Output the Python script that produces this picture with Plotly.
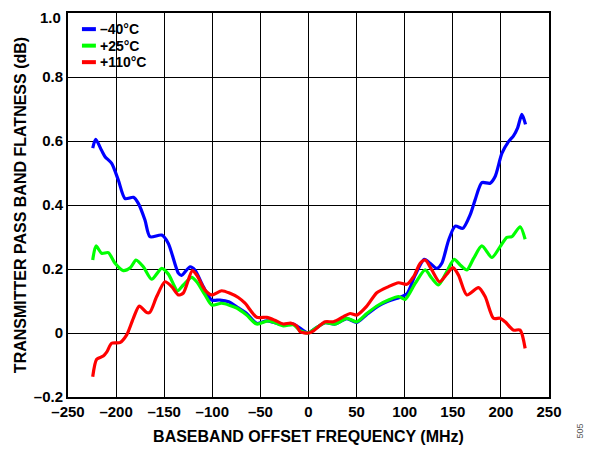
import plotly.graph_objects as go

# -40°C
x_m40 = [-224.3, -221.2, -215, -211.5, -204.6, -197.7, -190.7, -182, -176.9, -170,
         -164.8, -152.6, -145.7, -135.3, -131.9, -123.2, -118, -109.4, -100.6, -92,
         -83, -74.6, -64.3, -53.8, -43.4, -35, -26.2, -15.8, -8.8, 0,
         5, 17.3, 27.7, 39.8, 50.2, 60.6, 72.8, 83.2, 95.3, 102.2,
         110.9, 120.3, 126.5, 133.4, 138.6, 145.6, 152.5, 160.4, 168, 173.2,
         180.2, 188.8, 194, 201, 207.9, 213.1, 217.3, 221.8, 225.6]
y_m40 = [0.578, 0.605, 0.57, 0.551, 0.53, 0.478, 0.42, 0.424, 0.405, 0.353,
         0.301, 0.306, 0.28, 0.187, 0.18, 0.207, 0.197, 0.145, 0.103, 0.103,
         0.098, 0.082, 0.061, 0.03, 0.038, 0.032, 0.025, 0.028, 0.015, 0.0,
         0.01, 0.032, 0.028, 0.045, 0.033, 0.058, 0.085, 0.1, 0.112, 0.122,
         0.181, 0.23, 0.218, 0.202, 0.218, 0.29, 0.334, 0.327, 0.369, 0.416,
         0.47, 0.468, 0.489, 0.561, 0.598, 0.616, 0.64, 0.683, 0.652]

# +25°C
x_p25 = [-224.3, -220.9, -215, -208.1, -201.1, -192.5, -185, -179.3, -171.7, -163,
         -152.6, -145.7, -136, -130.1, -121.4, -116.2, -107.6, -100.6, -90.2, -74.6,
         -64.3, -53.8, -42, -35, -26, -15.8, -8.7, 0, 5, 17.3,
         27.7, 39.8, 50.2, 60.6, 72.8, 83.2, 93.6, 100.5, 110.9, 121.3,
         128.2, 135.1, 143.8, 151.4, 157.7, 164.6, 171.6, 180.2, 190.6, 199.2,
         206.2, 211.4, 220, 225.2]
y_p25 = [0.228, 0.272, 0.249, 0.251, 0.218, 0.195, 0.205, 0.228, 0.207, 0.168,
         0.202, 0.184, 0.132, 0.15, 0.174, 0.16, 0.119, 0.0875, 0.093, 0.078,
         0.056, 0.028, 0.038, 0.032, 0.022, 0.026, 0.007, 0.0, 0.01, 0.032,
         0.028, 0.046, 0.035, 0.061, 0.0875, 0.103, 0.114, 0.105, 0.155, 0.197,
         0.171, 0.15, 0.192, 0.23, 0.2125, 0.197, 0.233, 0.272, 0.236, 0.27,
         0.299, 0.301, 0.332, 0.293]

# +110°C
x_p110 = [-224.3, -220.2, -213.3, -209.8, -204.6, -196, -189, -182.1, -175.9, -168.2,
          -164.8, -157.8, -149.2, -142.2, -135.3, -130.1, -120.8, -116.2, -107.6, -100.6,
          -90.2, -81.6, -73, -66, -53.8, -43.4, -35, -26.2, -18.6, -12.3,
          -8.7, 0, 5.2, 17.3, 26, 36.4, 43.3, 50.2, 60.6, 71,
          83.2, 93.6, 102.2, 109.2, 116.1, 121.3, 128.2, 136.2, 143.8, 150.1,
          155.9, 164.6, 176.7, 183.6, 192.3, 199.2, 204.4, 213.1, 220, 225.2]
y_p110 = [-0.137, -0.082, -0.072, -0.06, -0.032, -0.03, -0.006, 0.046, 0.084, 0.064,
          0.065, 0.114, 0.16, 0.145, 0.119, 0.125, 0.195, 0.181, 0.134, 0.119,
          0.132, 0.124, 0.111, 0.093, 0.049, 0.049, 0.04, 0.028, 0.031, 0.022,
          0.004, 0.0, 0.007, 0.035, 0.035, 0.051, 0.061, 0.056, 0.084, 0.126,
          0.145, 0.157, 0.152, 0.176, 0.218, 0.228, 0.197, 0.16, 0.184, 0.204,
          0.181, 0.119, 0.142, 0.114, 0.046, 0.046, 0.035, 0.009, 0.009, -0.048]

names = ["\u201340\u00b0C", "+25\u00b0C", "+110\u00b0C"]
colors = ["#0000ff", "#00ff00", "#ff0000"]

x_ticks = [-250, -200, -150, -100, -50, 0, 50, 100, 150, 200, 250]
x_labels = ["\u2013250", "\u2013200", "\u2013150", "\u2013100", "\u201350", "0", "50", "100", "150", "200", "250"]
y_ticks = [-0.2, 0, 0.2, 0.4, 0.6, 0.8, 1.0]
y_labels = ["\u20130.2", "0", "0.2", "0.4", "0.6", "0.8", "1.0"]

font = dict(family="Liberation Sans, Arial", color="black")

fig = go.Figure()
for xs, ys, nm, c in zip([x_m40, x_p25, x_p110], [y_m40, y_p25, y_p110], names, colors):
    fig.add_trace(go.Scatter(x=xs, y=ys, name=nm, mode="lines",
                             line=dict(color=c, width=3.2, shape="spline", smoothing=0.7)))

# legend drawn by hand, short swatches like the original
for i, (nm, c) in enumerate(zip(names, colors)):
    yy = 0.958 - i * 0.043
    fig.add_shape(type="line", xref="paper", yref="paper", x0=0.029, x1=0.058, y0=yy, y1=yy,
                  line=dict(color=c, width=4))
    fig.add_annotation(x=0.064, y=yy, xref="paper", yref="paper", text=nm, showarrow=False,
                       xanchor="left", yanchor="middle", borderpad=0,
                       font=dict(size=14, weight="bold", **font))

# top y label sits right at the page edge, so it is placed by hand a bit lower
fig.add_annotation(x=0, y=1, xref="paper", yref="paper", text=y_labels[-1], showarrow=False,
                   xanchor="right", yanchor="top", xshift=-6, yshift=5, borderpad=0,
                   font=dict(size=15, weight="bold", **font))

fig.add_annotation(x=1.079, y=-0.112, xref="paper", yref="paper", text="505", showarrow=False,
                   textangle=-90, font=dict(size=9, color="#555555", family="Liberation Sans, Arial"))

axis_common = dict(showgrid=True, gridcolor="black", gridwidth=1, zeroline=False,
                   showline=True, linecolor="black", linewidth=2, mirror=True, ticks="",
                   automargin=False, tickfont=dict(size=15, weight="bold", **font))
fig.update_xaxes(range=[-250, 250], tickvals=x_ticks, ticktext=x_labels,
                 title=dict(text="BASEBAND OFFSET FREQUENCY (MHz)", font=dict(size=16, weight="bold", **font),
                            standoff=12),
                 **axis_common)
fig.update_yaxes(range=[-0.2, 1.0], tickvals=y_ticks, ticktext=y_labels[:-1] + [""],
                 title=dict(text="TRANSMITTER PASS BAND FLATNESS (dB)", font=dict(size=16, weight="bold", **font),
                            standoff=3),
                 **axis_common)
# page body has an 8px margin, so the figure is drawn 8px smaller
fig.update_layout(width=597, height=442, showlegend=False,
                  margin=dict(l=60, r=56, t=5, b=53),
                  plot_bgcolor="white", paper_bgcolor="white")
fig.write_html("out.html")
